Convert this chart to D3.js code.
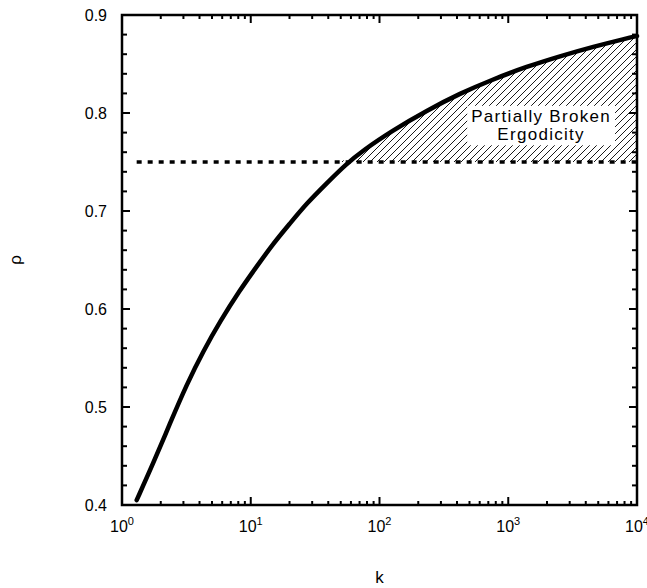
<!DOCTYPE html>
<html><head><meta charset="utf-8">
<script src="https://cdn.jsdelivr.net/npm/d3@7"></script>
<style>body{margin:0;background:#fff}svg{display:block}text{font-family:"Liberation Sans",Arial,Helvetica,sans-serif}</style>
</head><body>
<svg id="c" width="647" height="588"></svg>
<script>
const kValues = [1.30, 1.75, 2.36, 3.18, 4.28, 5.77, 8.25, 11.1, 15.0, 20.2, 27.2, 38.9, 54.0, 74.9, 128, 233, 422, 765, 1390, 2523, 4580, 8318, 10000];
const rhoValues = [0.405, 0.4426, 0.4834, 0.5230, 0.5570, 0.5872, 0.6194, 0.6432, 0.667, 0.6874, 0.7079, 0.7283, 0.7469, 0.7622, 0.7827, 0.8025, 0.8200, 0.8345, 0.8473, 0.8580, 0.8677, 0.8762, 0.8786];
const threshold = 0.75;
const yTicks = [0.4, 0.5, 0.6, 0.7, 0.8, 0.9];
const xTickExps = [0, 1, 2, 3, 4];
const regionLabel = ["Partially Broken", "Ergodicity"];

const data = kValues.map((k, i) => ({k, rho: rhoValues[i]}));
const svg = d3.select("#c");
const L = 122, R = 637, T = 15, B = 505;
const x = d3.scaleLog().domain([1, 1e4]).range([L, R]);
const y = d3.scaleLinear().domain([0.4, 0.9]).range([B, T]);

// hatch pattern
const defs = svg.append("defs");
const pat = defs.append("pattern").attr("id", "hatch").attr("patternUnits", "userSpaceOnUse")
  .attr("width", 7).attr("height", 7);
pat.append("path").attr("d", "M-1,1 l2,-2 M0,7 l7,-7 M6,8 l2,-2")
  .attr("stroke", "#000").attr("stroke-width", 0.9);

// hatched region between curve and threshold
const area = d3.area()
  .x(d => x(d.k))
  .y0(y(threshold))
  .y1(d => y(Math.max(d.rho, threshold)))
  .curve(d3.curveBasis);
svg.append("path").datum(data).attr("d", area).attr("fill", "url(#hatch)");

// label with white box
const lx = x(1800), ly = y(0.791);
const lg = svg.append("g");
const txt = lg.append("text").attr("text-anchor", "middle").attr("font-size", 17)
  .attr("letter-spacing", 1.3);
regionLabel.forEach((s, i) => txt.append("tspan").attr("x", lx).attr("y", ly + i * 18.5).text(s));
const bb = txt.node().getBBox();
lg.insert("rect", "text").attr("x", bb.x - 4).attr("y", bb.y - 1)
  .attr("width", bb.width + 8).attr("height", bb.height + 2).attr("fill", "#fff");

// threshold dotted line
svg.append("line").attr("x1", x(kValues[0])).attr("x2", x(1e4))
  .attr("y1", y(threshold)).attr("y2", y(threshold))
  .attr("stroke", "#000").attr("stroke-width", 3.5).attr("stroke-dasharray", "5,6");

// curve
const line = d3.line().x(d => x(d.k)).y(d => y(d.rho)).curve(d3.curveBasis);
svg.append("path").datum(data).attr("d", line).attr("fill", "none")
  .attr("stroke", "#000").attr("stroke-width", 4.5).attr("stroke-linecap", "round");

// frame
svg.append("rect").attr("x", L).attr("y", T).attr("width", R - L).attr("height", B - T)
  .attr("fill", "none").attr("stroke", "#000").attr("stroke-width", 2.5);

// ticks
const tk = svg.append("g").attr("stroke", "#000").attr("stroke-width", 2);
const yMinor = d3.range(0.4, 0.9001, 0.02);
yMinor.forEach(v => {
  const major = yTicks.some(t => Math.abs(t - v) < 1e-6);
  const len = major ? 8 : 5;
  tk.append("line").attr("x1", L).attr("x2", L + len).attr("y1", y(v)).attr("y2", y(v));
  tk.append("line").attr("x1", R).attr("x2", R - len).attr("y1", y(v)).attr("y2", y(v));
});
xTickExps.forEach(e => {
  for (let m = 1; m <= 9; m++) {
    const v = m * Math.pow(10, e);
    if (v > 1e4) break;
    const len = m === 1 ? 8 : 4;
    tk.append("line").attr("x1", x(v)).attr("x2", x(v)).attr("y1", B).attr("y2", B - len);
    tk.append("line").attr("x1", x(v)).attr("x2", x(v)).attr("y1", T).attr("y2", T + len);
  }
});

// y tick labels
svg.append("g").selectAll("text").data(yTicks).join("text")
  .attr("x", L - 15).attr("y", d => y(d)).attr("dy", "0.36em")
  .attr("text-anchor", "end").attr("font-size", 16).text(d => d.toFixed(1));

// x tick labels
const xl = svg.append("g").selectAll("text").data(xTickExps).join("text")
  .attr("x", d => x(Math.pow(10, d))).attr("y", 532).attr("text-anchor", "middle").attr("font-size", 16);
xl.append("tspan").text("10");
xl.append("tspan").attr("font-size", 11).attr("dy", -7).text(d => d);

// axis titles
svg.append("text").attr("x", (L + R) / 2).attr("y", 583).attr("text-anchor", "middle")
  .attr("font-size", 17).text("k");
svg.append("text").attr("transform", `translate(21,${(T + B) / 2}) rotate(-90)`)
  .attr("text-anchor", "middle").attr("font-size", 17).text("ρ");
</script>
</body></html>
